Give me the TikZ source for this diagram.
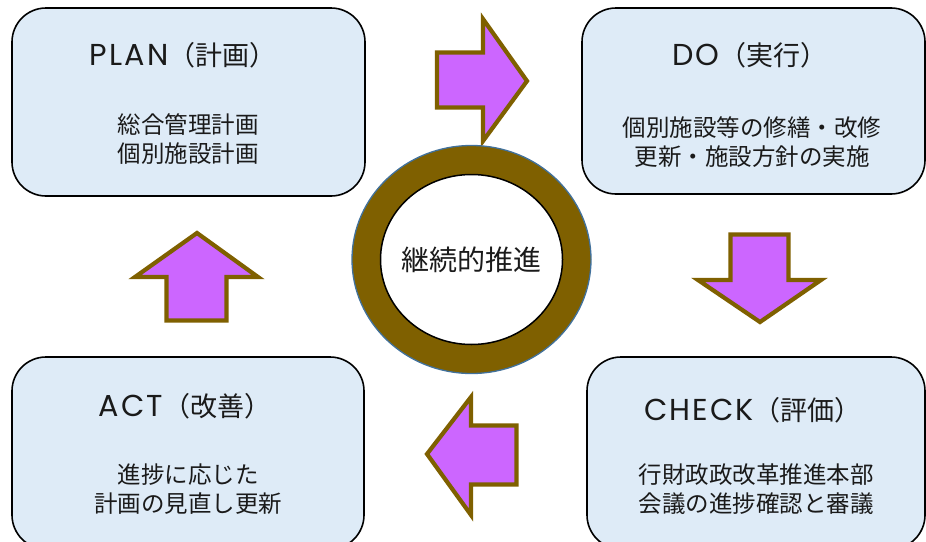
\documentclass[tikz,border=0pt]{standalone}
\usepackage{fontspec}
\setmainfont{Noto Sans CJK JP}
\newfontfamily\latfont[LetterSpace=7,Scale=1.12]{Poppins}
\usetikzlibrary{shapes.geometric}
\definecolor{boxfill}{HTML}{DEEBF7}
\definecolor{arrowfill}{HTML}{CC66FF}
\definecolor{brownline}{HTML}{7F6000}
\definecolor{ringedge}{HTML}{41719C}
\definecolor{txt}{HTML}{1A1A1A}
\tikzset{
  pdcabox/.style={draw=black, line width=1.6pt, fill=boxfill, rounded corners=34pt, inner sep=0pt},
  titletext/.style={font=\fontsize{27}{30}\selectfont, text=txt, inner sep=0pt},
  bodytext/.style={font=\fontsize{23.5}{29}\selectfont, text=txt, align=center, inner sep=0pt},
  blockarrow/.style={draw=brownline, fill=arrowfill, line width=4.2pt, line join=miter}
}
\begin{document}
\begin{tikzpicture}[x=1pt,y=-1pt]
\useasboundingbox (0,0) rectangle (926,541);
\clip (0,0) rectangle (926,541);
% boxes
\node[pdcabox, minimum width=353pt, minimum height=188pt] (plan) at (188.5,102) {};
\node[pdcabox, minimum width=343pt, minimum height=186pt] (do) at (753.5,101) {};
\node[pdcabox, minimum width=352pt, minimum height=192pt] (act) at (188,453) {};
\node[pdcabox, minimum width=338pt, minimum height=192pt] (check) at (756,453) {};
% titles
\node[titletext] (plant) at (183,55) {{\latfont PLAN}（計画）};
\node[titletext] (dot) at (750,55) {{\latfont DO}（実行）};
\node[titletext] (actt) at (185,406) {{\latfont ACT}（改善）};
\node[titletext] (checkt) at (753,410) {{\latfont CHECK}（評価）};
% bodies
\node[bodytext] (planb) at (188,139) {総合管理計画\\個別施設計画};
\node[bodytext] (dob) at (752,142) {個別施設等の修繕・改修\\更新・施設方針の実施};
\node[bodytext] (actb) at (188,489) {進捗に応じた\\計画の見直し更新};
\node[bodytext] (checkb) at (756,489) {行財政政改革推進本部\\会議の進捗確認と審議};
% arrows
\draw[blockarrow] (437,52.5) -- (483,52.5) -- (483,19) -- (527,81) -- (483,141) -- (483,107.5) -- (437,107.5) -- cycle;
\draw[blockarrow] (730.5,234.5) -- (788.5,234.5) -- (788.5,280) -- (821,280) -- (760,322) -- (698,280) -- (730.5,280) -- cycle;
\draw[blockarrow] (427,454) -- (471,397) -- (471,425.5) -- (516.5,425.5) -- (516.5,484.5) -- (471,484.5) -- (471,515) -- cycle;
\draw[blockarrow] (197,233) -- (258,277) -- (226.5,277) -- (226.5,320.5) -- (166.5,320.5) -- (166.5,277) -- (135,277) -- cycle;
% ring
\coordinate (ringc) at (471.5,259.5);
\fill[brownline, draw=ringedge, line width=1.3pt] (ringc) ellipse [x radius=119.5, y radius=114];
\filldraw[fill=white, draw=black, line width=1.5pt] (ringc) ellipse [x radius=91, y radius=85];
\node[font=\fontsize{28}{30}\selectfont, text=txt, inner sep=0pt] (core) at (ringc) {継続的推進};
\end{tikzpicture}
\end{document}
